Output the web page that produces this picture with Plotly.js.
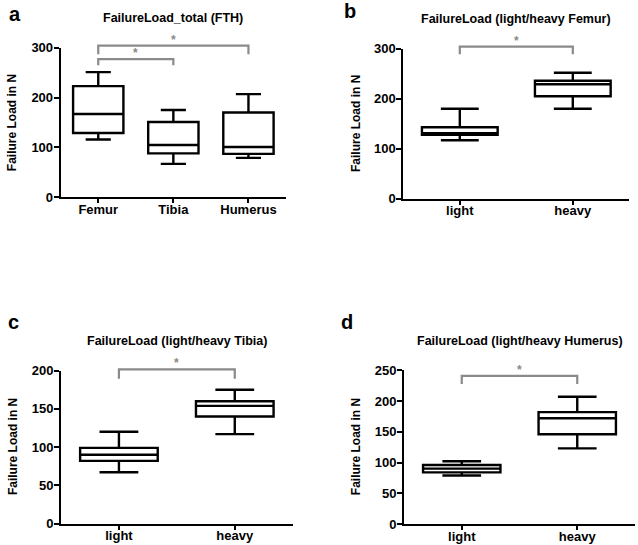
<!DOCTYPE html>
<html>
<head>
<meta charset="utf-8">
<script src="https://cdn.plot.ly/plotly-3.0.1.min.js"></script>
<style>html,body{margin:0;padding:0;background:#fff;}#chart{width:638px;height:545px;}</style>
</head>
<body>
<div id="chart"></div>
<script>
// ---- data ----
var catsA = ["Femur", "Tibia", "Humerus"];
var maxA = [251, 175, 207];
var q3A = [223, 151, 170];
var medA = [167, 105, 101];
var q1A = [129, 88, 87];
var minA = [116, 67, 79];

var catsB = ["light", "heavy"];
var maxB = [180, 252];
var q3B = [143, 236];
var medB = [131, 229];
var q1B = [128, 205];
var minB = [117, 180];

var catsC = ["light", "heavy"];
var maxC = [120, 175];
var q3C = [99, 160];
var medC = [90, 154];
var q1C = [82, 140];
var minC = [67, 117];

var catsD = ["light", "heavy"];
var maxD = [102, 207];
var q3D = [96, 182];
var medD = [90, 172];
var q1D = [84, 146];
var minD = [79, 123];

var titles = ["FailureLoad_total (FTH)", "FailureLoad (light/heavy Femur)", "FailureLoad (light/heavy Tibia)", "FailureLoad (light/heavy Humerus)"];
var letters = ["a", "b", "c", "d"];
var yTitle = "Failure Load in N";
var yMaxes = [300, 300, 200, 250];
var yDticks = [100, 100, 50, 50];
// significance brackets: [fromIndex, toIndex, level, tickBottom]
var sigA = [[0, 2, 304, 287], [0, 1, 277, 265]];
var sigB = [[0, 1, 304, 289]];
var sigC = [[0, 1, 201.7, 189.5]];
var sigD = [[0, 1, 240.8, 227.8]];

// ---- layout geometry (pixels) ----
var W = 638, H = 545;
var boxes = [
  {l: 60.7, r: 286, t: 47.7, b: 197.3},
  {l: 403.3, r: 629.3, t: 48.7, b: 198.7},
  {l: 61, r: 292.7, t: 370.7, b: 523.5},
  {l: 404, r: 635, t: 370.3, b: 524}
];
var letterPos = [[7, 14], [342, 11], [6, 322], [339, 322]];
function px(x) { return x / W; }
function py(y) { return 1 - y / H; }

var FONT = "Liberation Sans, Arial, Helvetica, sans-serif";
var GREY = "#8a8a8a";

var panels = [
  {cats: catsA, max: maxA, q3: q3A, med: medA, q1: q1A, min: minA, sig: sigA},
  {cats: catsB, max: maxB, q3: q3B, med: medB, q1: q1B, min: minB, sig: sigB},
  {cats: catsC, max: maxC, q3: q3C, med: medC, q1: q1C, min: minC, sig: sigC},
  {cats: catsD, max: maxD, q3: q3D, med: medD, q1: q1D, min: minD, sig: sigD}
];

var data = [];
var layout = {
  width: W, height: H,
  margin: {l: 0, r: 0, t: 0, b: 0},
  paper_bgcolor: "#fff", plot_bgcolor: "#fff",
  showlegend: false,
  font: {family: FONT, color: "#000", size: 12, weight: "bold"},
  shapes: [], annotations: []
};

panels.forEach(function (p, k) {
  var n = p.cats.length;
  var idx = p.cats.map(function (c, i) { return i; });
  var sfx = k === 0 ? "" : String(k + 1);
  var xa = "x" + sfx, ya = "y" + sfx;
  data.push({
    type: "box",
    x: idx,
    q1: p.q1, median: p.med, q3: p.q3,
    lowerfence: p.min, upperfence: p.max,
    width: 0.67,
    whiskerwidth: 0.5,
    boxpoints: false,
    fillcolor: "#ffffff",
    line: {color: "#000", width: 2.4},
    xaxis: xa, yaxis: ya,
    hoverinfo: "skip"
  });
  var bx = boxes[k];
  layout["xaxis" + sfx] = {
    domain: [px(bx.l), px(bx.r)],
    anchor: ya,
    range: [-0.5, n - 0.5],
    tickvals: idx, ticktext: p.cats,
    ticks: "outside", ticklen: 4, tickwidth: 2, tickcolor: "#000",
    ticklabelstandoff: -5,
    showline: true, linewidth: 2, linecolor: "#000",
    showgrid: false, zeroline: false, fixedrange: true,
    tickfont: {family: FONT, size: 13, color: "#000", weight: "bold"}
  };
  layout["yaxis" + sfx] = {
    domain: [py(bx.b), py(bx.t)],
    anchor: xa,
    range: [0, yMaxes[k]],
    dtick: yDticks[k], tick0: 0,
    ticks: "outside", ticklen: 5, tickwidth: 2, tickcolor: "#000",
    ticklabelstandoff: -2,
    showline: true, linewidth: 2, linecolor: "#000",
    showgrid: false, zeroline: false, fixedrange: true,
    tickfont: {family: FONT, size: 13, color: "#000", weight: "bold"}
  };
  // panel title
  layout.annotations.push({
    xref: "paper", yref: "paper",
    x: px((bx.l + bx.r) / 2), y: py(bx.t - 29.5),
    xanchor: "center", yanchor: "middle",
    text: titles[k], showarrow: false,
    font: {family: FONT, size: 12.5, color: "#000", weight: "bold"}
  });
  // y axis title
  layout.annotations.push({
    xref: "paper", yref: "paper",
    x: px(bx.l - 48), y: py((bx.t + bx.b) / 2),
    xanchor: "center", yanchor: "middle", textangle: -90,
    text: yTitle, showarrow: false,
    font: {family: FONT, size: 12, color: "#000", weight: "bold"}
  });
  // panel letter
  layout.annotations.push({
    xref: "paper", yref: "paper",
    x: px(letterPos[k][0]), y: py(letterPos[k][1]),
    xanchor: "left", yanchor: "middle",
    text: letters[k], showarrow: false,
    font: {family: FONT, size: 20, color: "#000", weight: "bold"}
  });
  // significance brackets
  p.sig.forEach(function (s) {
    var x0 = (s[0] + 0.5) / n, x1 = (s[1] + 0.5) / n;
    var yl = s[2] / yMaxes[k], yb = s[3] / yMaxes[k];
    layout.shapes.push({
      type: "path",
      xref: xa + " domain", yref: ya + " domain",
      path: "M" + x0 + "," + yb + " L" + x0 + "," + yl + " L" + x1 + "," + yl + " L" + x1 + "," + yb,
      line: {color: GREY, width: 2.2}
    });
    layout.annotations.push({
      xref: xa + " domain", yref: ya + " domain",
      x: (x0 + x1) / 2, y: yl,
      xanchor: "center", yanchor: "bottom", yshift: -3,
      text: "*", showarrow: false,
      font: {family: FONT, size: 12, color: GREY, weight: "bold"}
    });
  });
});

Plotly.newPlot("chart", data, layout, {displayModeBar: false, staticPlot: true});
</script>
</body>
</html>
